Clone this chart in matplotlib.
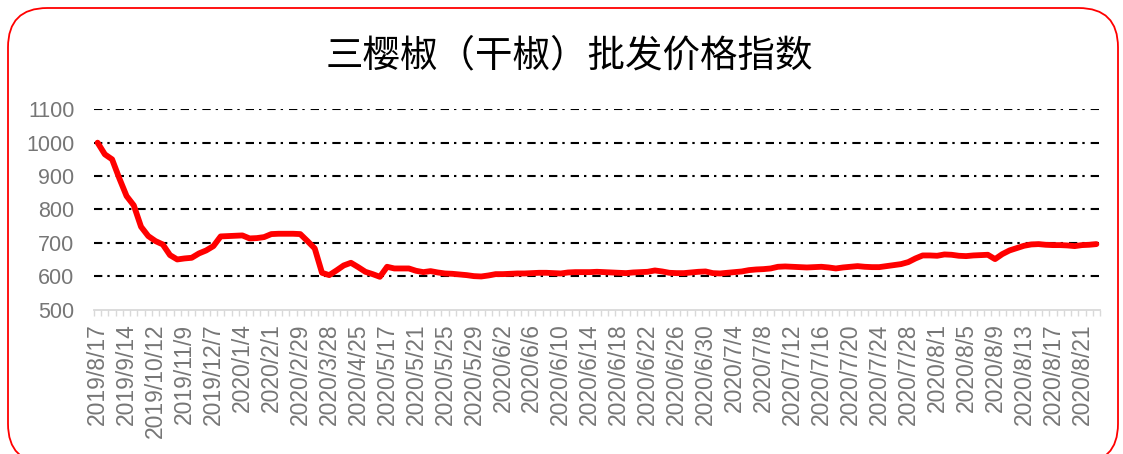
import datetime as dt
import matplotlib
matplotlib.use("Agg")
import matplotlib.pyplot as plt
from matplotlib.patches import FancyBboxPatch

plt.rcParams['font.family'] = ['Noto Sans CJK SC', 'DejaVu Sans']
plt.rcParams['lines.scale_dashes'] = False

# categories: weekly until 2020/5/16, then daily
weekly = [dt.date(2019, 8, 17) + dt.timedelta(days=7 * i) for i in range(39)]
daily = [dt.date(2020, 5, 17) + dt.timedelta(days=i) for i in range(99)]
dates = weekly + [dt.date(2020, 5, 16)] + daily
labels = [f"{d.year}/{d.month}/{d.day}" for d in dates]

index_values = [
    1000, 965, 950, 893, 840, 812, 748, 720, 705, 695,
    663, 650, 653, 655, 668, 677, 690, 719, 720, 721,
    722, 713, 714, 717, 726, 727, 727, 727, 726, 705,
    683, 610, 603, 617, 632, 640, 627, 613, 606, 598,
    628, 623, 623, 623, 616, 612, 615, 611, 608, 607,
    605, 603, 600, 599, 602, 606, 606, 607, 608, 608,
    609, 610, 610, 609, 608, 611, 612, 612, 612, 613,
    612, 611, 610, 609, 611, 612, 613, 617, 614, 610,
    609, 609, 611, 613, 614, 609, 608, 610, 612, 614,
    618, 620, 621, 623, 628, 629, 628, 627, 626, 627,
    628, 626, 623, 626, 628, 630, 628, 627, 627, 630,
    633, 636, 642, 653, 662, 662, 661, 665, 664, 661,
    660, 662, 663, 664, 651, 666, 677, 684, 691, 695,
    696, 694, 693, 693, 692, 690, 693, 694, 696,
]

title = "三樱椒（干椒）批发价格指数"
yticks = [500, 600, 700, 800, 900, 1000, 1100]

fig = plt.figure(figsize=(11.23, 4.54), dpi=100)

# rounded red frame around the chart
frame = FancyBboxPatch((8 / 1123, -0.02), 1110 / 1123, 1 - 8 / 454 + 0.02,
                       boxstyle="round,pad=0,rounding_size=0.035",
                       transform=fig.transFigure, facecolor='white',
                       edgecolor='#ff0000', linewidth=1.3,
                       mutation_aspect=1123 / 454, zorder=0)
fig.patches.append(frame)

ax = fig.add_axes([94 / 1123, 1 - 309.5 / 454, 1006 / 1123, 200.2 / 454])
ax.set_zorder(2)
ax.set_facecolor('none')

x = list(range(len(index_values)))
ax.plot(x, index_values, color='#ff0000', linewidth=4.2,
        solid_joinstyle='round', solid_capstyle='round', zorder=3)

ax.set_xlim(-0.5, len(index_values) - 0.5)
ax.set_ylim(500, 1100)

# dash-dot gridlines
for v in yticks[1:]:
    ax.axhline(v, color='black', linewidth=1.5,
               linestyle=(0, (6.0, 3.6, 1.7, 4.3)), zorder=1)

ax.set_yticks(yticks)
ax.set_yticklabels([str(v) for v in yticks], fontsize=15.5, color='#767676',
                   family=['Liberation Sans', 'DejaVu Sans'])
ax.tick_params(axis='y', length=0, pad=14)

ax.set_xticks(x[::4])
ax.set_xticklabels(labels[::4], rotation=90, fontsize=16.5, color='#767676',
                   family=['Liberation Sans', 'DejaVu Sans'])
ax.set_xticks([i - 0.5 for i in range(len(index_values) + 1)], minor=True)
ax.tick_params(axis='x', which='major', length=0, pad=10)
ax.tick_params(axis='x', which='minor', length=4, width=1, color='#d9d9d9')

for side in ['top', 'right', 'left']:
    ax.spines[side].set_visible(False)
ax.spines['bottom'].set_color('#d9d9d9')
ax.spines['bottom'].set_linewidth(1.3)

fig.text(569 / 1123, 1 - 56 / 454, title, fontsize=27, ha='center',
         va='center', color='black', weight='medium')

fig.savefig("out.png", dpi=100)
